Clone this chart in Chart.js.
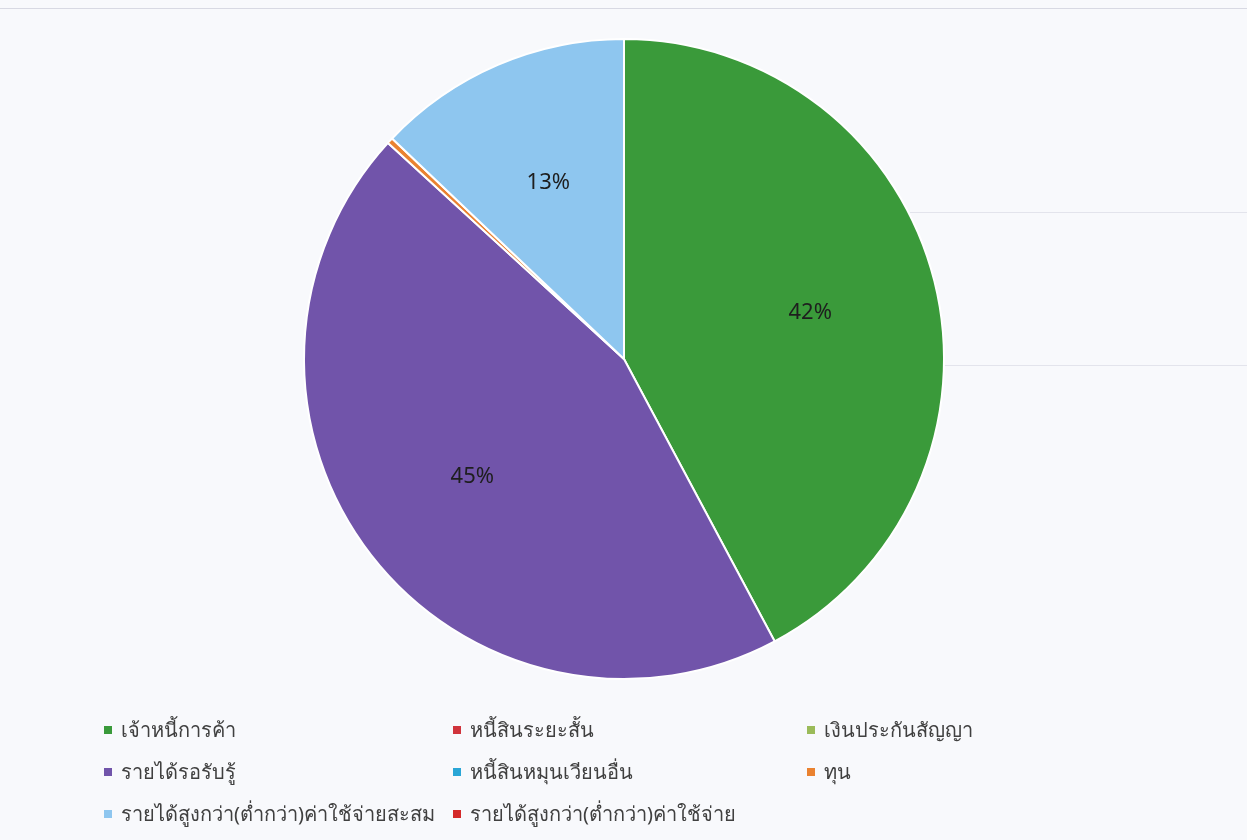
<!DOCTYPE html>
<html>
<head>
<meta charset="utf-8">
<script src="https://cdn.jsdelivr.net/npm/chart.js@4.4.1/dist/chart.umd.min.js"></script>
<style>
  html, body { margin:0; padding:0; background:#f8f9fc; width:1247px; height:840px; overflow:hidden; }
  #wrap { position:absolute; left:0; top:0; width:1247px; height:840px; }
  .hl { position:absolute; height:1px; background:#e3e4ec; }
  #legend { position:absolute; left:104px; top:713px; width:1100px; font-family:"Noto Sans", "DejaVu Sans", sans-serif; font-size:20px; color:#404040; }
  .item { position:absolute; white-space:nowrap; line-height:34px; }
  .sw { display:inline-block; width:8px; height:8px; margin-right:9px; vertical-align:middle; position:relative; top:-2px; }
</style>
</head>
<body>
<div id="wrap">
  <div class="hl" style="left:0;top:8px;width:1247px;background:#d8d9e3;"></div>
  <div class="hl" style="left:910px;top:212px;width:337px;"></div>
  <div class="hl" style="left:910px;top:365px;width:337px;"></div>
  <canvas id="c" width="1247" height="840" style="position:absolute;left:0;top:0;"></canvas>
  <div id="legend"></div>
</div>
<script>
const categories = [
  "เจ้าหนี้การค้า",
  "หนี้สินระยะสั้น",
  "เงินประกันสัญญา",
  "รายได้รอรับรู้",
  "หนี้สินหมุนเวียนอื่น",
  "ทุน",
  "รายได้สูงกว่า(ต่ำกว่า)ค่าใช้จ่ายสะสม",
  "รายได้สูงกว่า(ต่ำกว่า)ค่าใช้จ่าย"
];
const shares = [42.2, 0, 0, 44.6, 0, 0.3, 12.9, 0];
const colors = ["#3a9a3a", "#d0343c", "#9bbb59", "#7154aa", "#2aa6d6", "#ea8230", "#8ec6ef", "#d42a2a"];

const pctLabels = {
  id: 'pctLabels',
  afterDatasetsDraw(chart) {
    const ctx = chart.ctx;
    const meta = chart.getDatasetMeta(0);
    const data = chart.data.datasets[0].data;
    const total = data.reduce((a, b) => a + b, 0);
    ctx.save();
    ctx.font = '22px "Noto Sans", "DejaVu Sans", sans-serif';
    ctx.fillStyle = '#1e1e1e';
    ctx.textAlign = 'center';
    ctx.textBaseline = 'middle';
    meta.data.forEach((arc, i) => {
      const pct = Math.round(data[i] / total * 100);
      if (pct < 1) return;
      const p = arc.getProps(['x','y','startAngle','endAngle','outerRadius'], true);
      const mid = (p.startAngle + p.endAngle) / 2;
      const r = p.outerRadius * 0.6;
      ctx.fillText(pct + '%', p.x + Math.cos(mid) * r, p.y + Math.sin(mid) * r);
    });
    ctx.restore();
  }
};

const chart = new Chart(document.getElementById('c'), {
  type: 'pie',
  data: {
    labels: categories,
    datasets: [{
      data: shares,
      backgroundColor: colors,
      borderColor: '#ffffff',
      borderWidth: 2
    }]
  },
  options: {
    responsive: false,
    animation: false,
    layout: { padding: { top: 38, bottom: 160, left: 303, right: 302 } },
    plugins: { legend: { display: false }, tooltip: { enabled: false } }
  },
  plugins: [pctLabels]
});

// HTML legend built from the same arrays, 3 columns row-major
const colX = [0, 349, 703];
const legend = document.getElementById('legend');
categories.forEach((name, i) => {
  const div = document.createElement('div');
  div.className = 'item';
  div.style.left = colX[i % 3] + 'px';
  div.style.top = (Math.floor(i / 3) * 42) + 'px';
  const sw = document.createElement('span');
  sw.className = 'sw';
  sw.style.background = colors[i];
  div.appendChild(sw);
  div.appendChild(document.createTextNode(name));
  legend.appendChild(div);
});
</script>
</body>
</html>
